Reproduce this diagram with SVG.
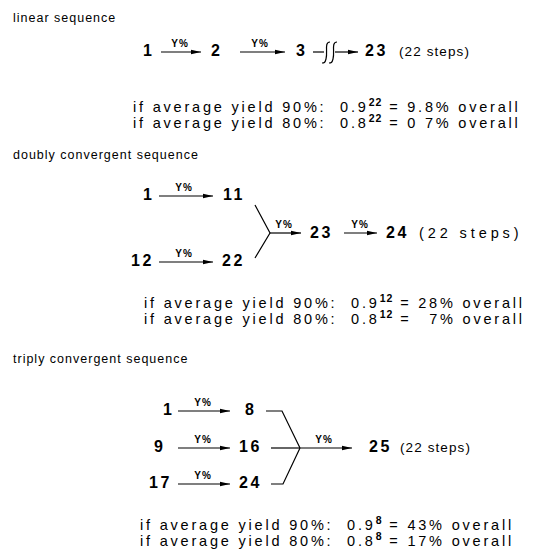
<svg xmlns="http://www.w3.org/2000/svg" width="536" height="555" viewBox="0 0 536 555">
<defs>
<marker id="ah" viewBox="0 0 10 6" refX="10" refY="3" markerWidth="10" markerHeight="6" markerUnits="userSpaceOnUse" orient="auto">
<path d="M0,0.8 L10,3 L0,5.2 Z" fill="#000"/>
</marker>
<style>
text{font-family:"Liberation Sans",Arial,sans-serif;fill:#000}
.h{font-size:12.5px;letter-spacing:1px}
.n{font-size:16px;font-weight:bold;letter-spacing:2.5px}
.y{font-size:10px;font-weight:bold;text-anchor:middle;letter-spacing:1px}
.s{font-size:13.5px;letter-spacing:1.1px}
.s2{font-size:14.5px;letter-spacing:3.9px}
.t{font-size:14.5px;letter-spacing:2.8px}
.sup{font-size:10.5px;font-weight:bold;letter-spacing:1px}
.a{stroke:#000;stroke-width:1.2;fill:none;marker-end:url(#ah)}
.l{stroke:#000;stroke-width:1.2;fill:none}
</style>
</defs>
<rect width="536" height="555" fill="#fff"/>

<!-- headers and yield text -->
<text class="h" x="13" y="22">linear sequence</text>
<text class="t" x="133" y="112" xml:space="preserve">if average yield 90%:  0.9<tspan class="sup" dy="-6">22</tspan><tspan dy="6"> = 9.8% overall</tspan></text>
<text class="t" x="133" y="128" xml:space="preserve">if average yield 80%:  0.8<tspan class="sup" dy="-6">22</tspan><tspan dy="6"> = 0 7% overall</tspan></text>

<text class="h" x="13" y="159">doubly convergent sequence</text>
<text class="t" x="144" y="308" xml:space="preserve">if average yield 90%:  0.9<tspan class="sup" dy="-6">12</tspan><tspan dy="6"> = 28% overall</tspan></text>
<text class="t" x="144" y="324" xml:space="preserve">if average yield 80%:  0.8<tspan class="sup" dy="-6">12</tspan><tspan dy="6"> = </tspan><tspan dx="10.9">7% overall</tspan></text>

<text class="h" x="13" y="363">triply convergent sequence</text>
<text class="t" x="140" y="530" xml:space="preserve">if average yield 90%:  0.9<tspan class="sup" dy="-6">8</tspan><tspan dy="6"> = 43% overall</tspan></text>
<text class="t" x="140" y="546" xml:space="preserve">if average yield 80%:  0.8<tspan class="sup" dy="-6">8</tspan><tspan dy="6"> = 17% overall</tspan></text>

<!-- nodes: linear -->
<g id="lin-1"><text class="n" x="143" y="56">1</text></g>
<g id="lin-2"><text class="n" x="211" y="56">2</text></g>
<g id="lin-3"><text class="n" x="296" y="56">3</text></g>
<g id="lin-23"><text class="n" x="365" y="56">23</text><text class="s" x="399" y="56">(22 steps)</text></g>

<!-- nodes: doubly -->
<g id="dbl-1"><text class="n" x="143" y="200">1</text></g>
<g id="dbl-11"><text class="n" x="223" y="200">11</text></g>
<g id="dbl-12"><text class="n" x="131" y="266">12</text></g>
<g id="dbl-22"><text class="n" x="222" y="266">22</text></g>
<g id="dbl-23"><text class="n" x="310" y="238">23</text></g>
<g id="dbl-24"><text class="n" x="386" y="238">24</text><text class="s2" x="419" y="238">(22 steps)</text></g>

<!-- nodes: triply -->
<g id="tri-1"><text class="n" x="163" y="415">1</text></g>
<g id="tri-8"><text class="n" x="245" y="415">8</text></g>
<g id="tri-9"><text class="n" x="154" y="452">9</text></g>
<g id="tri-16"><text class="n" x="239" y="452">16</text></g>
<g id="tri-17"><text class="n" x="149" y="488">17</text></g>
<g id="tri-24"><text class="n" x="239" y="488">24</text></g>
<g id="tri-25"><text class="n" x="369" y="452">25</text><text class="s" x="400" y="452">(22 steps)</text></g>

<!-- connectors -->
<g id="connectors">
<!-- linear -->
<line class="a" x1="161" y1="52" x2="201" y2="52"/><text class="y" x="180" y="47">Y%</text>
<line class="a" x1="240" y1="52" x2="285" y2="52"/><text class="y" x="260" y="47">Y%</text>
<line class="l" x1="313" y1="52" x2="324" y2="52"/>
<path class="l" d="M330,42 C324,42 328,52 326,59 C325,63 324,63 322,63"/>
<path class="l" d="M337,42 C331,42 335,52 333,59 C332,63 331,63 329,63"/>
<line class="a" x1="335" y1="52" x2="358" y2="52"/>
<!-- doubly -->
<line class="a" x1="159" y1="196" x2="213" y2="196"/><text class="y" x="184" y="191">Y%</text>
<line class="a" x1="159" y1="262" x2="213" y2="262"/><text class="y" x="184" y="257">Y%</text>
<polyline class="l" points="255,205 270,233 255,258"/>
<line class="a" x1="270" y1="233" x2="301" y2="233"/><text class="y" x="284" y="228">Y%</text>
<line class="a" x1="344" y1="233" x2="377" y2="233"/><text class="y" x="360" y="228">Y%</text>
<!-- triply -->
<line class="a" x1="178" y1="411" x2="230" y2="411"/><text class="y" x="203" y="406">Y%</text>
<line class="a" x1="178" y1="448" x2="230" y2="448"/><text class="y" x="203" y="443">Y%</text>
<line class="a" x1="178" y1="484" x2="230" y2="484"/><text class="y" x="203" y="479">Y%</text>
<polyline class="l" points="266,411 282,411 300,448"/>
<line class="l" x1="271" y1="448" x2="300" y2="448"/>
<polyline class="l" points="271,484 283,484 300,448"/>
<line class="a" x1="300" y1="448" x2="352" y2="448"/><text class="y" x="324" y="443">Y%</text>
</g>
</svg>
